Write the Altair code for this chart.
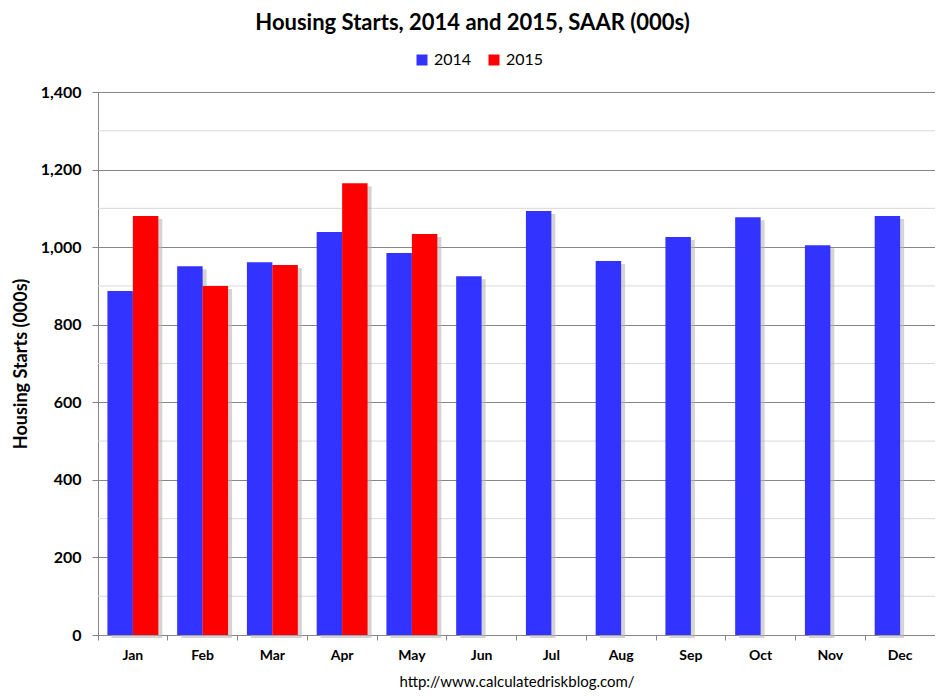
import altair as alt
import pandas as pd

months = ["Jan", "Feb", "Mar", "Apr", "May", "Jun", "Jul", "Aug", "Sep", "Oct", "Nov", "Dec"]
series = ["2014", "2015"]
colors = ["#3333FF", "#FF0000"]
starts_2014 = [887, 951, 961, 1039, 985, 925, 1093, 964, 1026, 1077, 1005, 1080]
starts_2015 = [1080, 900, 954, 1165, 1034]
major_ticks = [0, 200, 400, 600, 800, 1000, 1200, 1400]
minor_ticks = [100, 300, 500, 700, 900, 1100, 1300]

rows = []
for m, v in zip(months, starts_2014):
    rows.append({"month": m, "year": "2014", "value": v})
for m, v in zip(months, starts_2015):
    rows.append({"month": m, "year": "2015", "value": v})
df = pd.DataFrame(rows)
minor_df = pd.DataFrame({"v": minor_ticks})

FONT = "Lato"

x_enc = alt.X(
    "month:N",
    sort=months,
    scale=alt.Scale(paddingInner=0, paddingOuter=0),
    axis=alt.Axis(
        title="http://www.calculatedriskblog.com/",
        titleFontWeight="normal",
        titleFontSize=15,
        titleFont=FONT,
        titleColor="#000000",
        titlePadding=12,
        bandPosition=0,
        labelAngle=0,
        labelFont=FONT,
        labelFontWeight="bold",
        labelFontSize=14,
        labelPadding=8,
        labelColor="#000000",
        tickSize=5,
        tickColor="#868686",
        domainColor="#868686",
        grid=False,
    ),
)
y_enc = alt.Y(
    "value:Q",
    scale=alt.Scale(domain=[0, 1400], nice=False),
    axis=alt.Axis(
        values=major_ticks,
        format=",.0f",
        title="Housing Starts (000s)",
        titleFont=FONT,
        titleFontSize=18,
        titleFontWeight="bold",
        titleColor="#000000",
        titlePadding=10,
        labelFont=FONT,
        labelFontWeight="bold",
        labelFontSize=16,
        labelPadding=11,
        labelColor="#000000",
        tickSize=6,
        tickColor="#868686",
        domainColor="#868686",
        grid=True,
        gridColor="#868686",
        gridWidth=1,
    ),
)
xoff = alt.XOffset("year:N", scale=alt.Scale(domain=series, paddingInner=0, paddingOuter=0.37))
xoff_shadow = alt.XOffset(
    "year:N", scale=alt.Scale(domain=series, paddingInner=0, paddingOuter=0.37, range=[4, 73.75])
)

minor = alt.Chart(minor_df).mark_rule(color="#d9d9d9", strokeWidth=1).encode(
    y=alt.Y("v:Q", scale=alt.Scale(domain=[0, 1400], nice=False))
)

shadow = alt.Chart(df).mark_bar(color="#b8b8b8", opacity=0.6, yOffset=3, y2Offset=0).encode(
    x=x_enc, xOffset=xoff_shadow, y=y_enc
)

bars = alt.Chart(df).mark_bar().encode(
    x=x_enc,
    xOffset=xoff,
    y=y_enc,
    color=alt.Color(
        "year:N",
        scale=alt.Scale(domain=series, range=colors),
        legend=alt.Legend(
            title=None,
            orient="none",
            direction="horizontal",
            legendX=316,
            legendY=-40,
            symbolType="square",
            symbolSize=121,
            symbolStrokeWidth=0,
            symbolOpacity=1,
            labelFont=FONT,
            labelFontSize=16,
            labelColor="#000000",
            labelOffset=4,
            columnPadding=14,
            padding=0,
        ),
    ),
)

chart = (
    alt.layer(minor, shadow, bars)
    .resolve_scale(xOffset="independent")
    .properties(
        width=837,
        height=543,
        autosize=alt.AutoSizeParams(type="none"),
        padding={"left": 90, "top": 84, "right": 0, "bottom": 60},
        title=alt.TitleParams(
            "Housing Starts,  2014 and 2015, SAAR (000s)",
            font=FONT,
            fontSize=22,
            fontWeight="bold",
            color="#000000",
            anchor="middle",
            dx=-44,
            offset=17,
        ),
    )
    .configure_view(stroke=None)
    .configure(background="#ffffff")
)

chart.save("out.html", embed_options={"renderer": "svg", "actions": False})
